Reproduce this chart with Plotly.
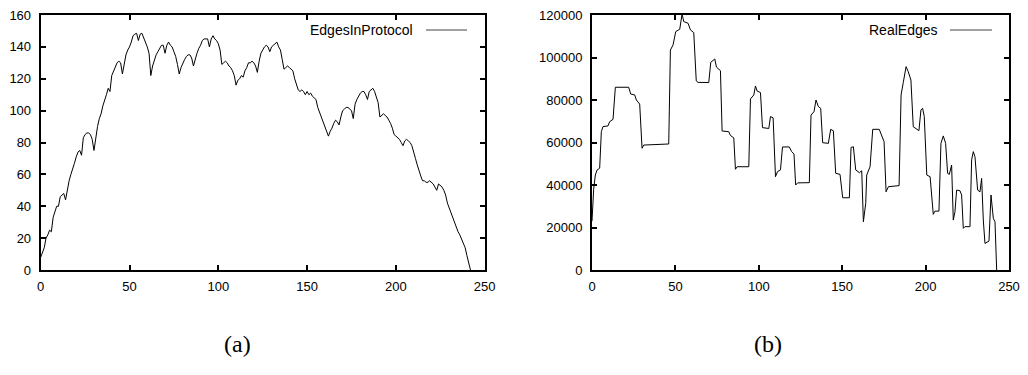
import plotly.graph_objects as go

# ---------------- data ----------------
rounds_a = list(range(0, 243))
edges_in_protocol = [
    8, 11, 14, 20, 22, 25, 24, 33, 36, 40,
    40, 46, 47, 48, 44, 51, 56, 60, 63, 67,
    71, 74, 75, 72, 83, 85, 86, 86, 85, 82,
    75, 84, 90, 95, 98, 103, 106, 110, 114, 112,
    122, 125, 128, 130, 131, 130, 123, 130, 135, 138,
    140, 143, 147, 148, 148.5, 144, 148, 148.5, 146, 143,
    140, 136, 122, 128, 132, 135, 137, 139, 141, 141,
    136, 141, 143, 141, 140, 137, 134, 129, 123, 127,
    130, 132, 134, 135, 135, 133, 128, 133, 136, 139,
    141, 144, 145, 145, 145, 140, 145, 147, 145, 144,
    142, 138, 129, 130, 131, 130, 128, 127, 125, 122,
    116, 119, 120, 122, 121, 125, 127, 130, 130, 131,
    130, 128, 124, 131, 136, 138, 140, 141, 140, 137,
    140, 141, 142, 143, 140, 138, 132, 126, 127, 128,
    127, 126, 125, 120, 116, 113, 112, 113, 112, 110,
    112, 110, 111, 109, 108, 107, 102, 99, 96, 94,
    90, 87, 84, 87, 89, 92, 94, 93, 91, 96,
    100, 101, 102, 102, 101, 100, 95, 104, 107, 109,
    111, 112, 112, 110, 107, 112, 113, 114, 112, 109,
    105, 96, 97, 98, 97, 96, 94, 92, 89, 85,
    84, 83, 82, 80, 78, 81, 82, 81, 80, 78,
    73, 70, 66, 62, 59, 56, 56, 55, 55, 56,
    55, 54, 52, 50, 54, 53, 52, 50, 47, 42,
    39, 36, 32, 29, 27, 24, 22, 19, 16, 14,
    9, 4, 0,
]

rounds_b = [
    0, 1, 2, 3, 4.6, 5.6, 6.6, 9.6, 10.6, 12.6, 14, 22, 23.2, 25.6, 26.6, 28.6,
    30, 31, 46, 47, 48.6, 50.2, 52.6, 54, 55, 57.6, 59, 61, 62.5, 63.6, 70,
    71.2, 73.6, 74.6, 77, 78, 82, 83, 85, 86, 87, 94, 95, 97, 98, 99, 101,
    102.2, 106, 107, 108.6, 110, 111.2, 113, 114.2, 118.3, 119.7, 121.1,
    122.1, 123.3, 130.3, 131.3, 133.1, 134.3, 135.7, 137.1, 138.3, 141.7,
    143.1, 144.7, 146.1, 148.7, 150.3, 154.3, 155.3, 156.7, 158.1, 160.3,
    161.7, 162.7, 164.1, 164.7, 166.7, 168.3, 172.2, 173.7, 175.1, 176.3,
    177.7, 184.1, 185.3, 186.6, 188.3, 189.6, 191.2, 192.6, 196, 197.2,
    198.2, 199.2, 200.7, 202.7, 204.6, 205.6, 208, 209.2, 210.6, 212, 213.2,
    214.2, 215.6, 216.6, 217.6, 218.6, 220.6, 221.6, 222.6, 223.6, 226.6,
    227.6, 228.6, 229.6, 231.2, 232.6, 233.6, 234.6, 235.6, 238, 239.2,
    240.6, 241.6, 242.6,
]
real_edges = [
    23000, 38000, 44700, 47000, 47900, 65100, 67500, 67800, 69800, 70900,
    86000, 86000, 82800, 82400, 80000, 78100,
    57300, 58800, 59300, 103500, 105900, 112200, 113300, 120500, 116900,
    116100, 113000, 111700, 89000, 88300, 88200,
    97700, 99300, 95500, 93800, 65400, 65100, 63300, 62200, 47400, 48600,
    48600, 80500, 82400, 86600, 84200, 83500,
    67000, 66600, 72200, 71600, 43900, 46300, 47100, 57900, 57900, 55700,
    54600,
    40000, 41000, 41100, 72900, 74500, 80000, 76900, 76100, 59900, 59600,
    66200, 65500, 45500, 45000, 34000, 34000, 57700, 58000, 47100, 45800,
    46700, 22700, 31400, 44700, 48600, 66200, 66200, 62700, 60400, 36800,
    39200, 39700, 82400, 88200, 95700, 93300, 89400, 67400, 65600, 75300,
    76100, 72200, 44700, 43900, 26200, 27700, 27700, 59600, 63100, 59600,
    45500, 45000, 49400, 23500, 27400, 37600, 37300, 35300, 19600, 20400,
    20400, 51800, 55700, 53300, 37600, 36800, 43100, 23500, 12500, 13600,
    35300, 24300, 22700, 0,
]

x_ticks = [0, 50, 100, 150, 200, 250]
y_ticks_a = [0, 20, 40, 60, 80, 100, 120, 140, 160]
y_ticks_b = [0, 20000, 40000, 60000, 80000, 100000, 120000]

W, H = 1028, 375

fig = go.Figure()
fig.add_trace(go.Scatter(x=rounds_a, y=edges_in_protocol, mode="lines",
                         line=dict(color="black", width=1),
                         xaxis="x", yaxis="y", showlegend=False))
fig.add_trace(go.Scatter(x=rounds_b, y=real_edges, mode="lines",
                         line=dict(color="black", width=1),
                         xaxis="x2", yaxis="y2", showlegend=False))

tickfont = dict(family="Liberation Sans, Arial, sans-serif", size=13, color="black")
ydom = [1 - 270 / H, 1 - 15 / H]
common = dict(showline=True, linecolor="black", linewidth=2, mirror="ticks",
              ticks="inside", ticklen=5, tickwidth=1.5, tickcolor="black",
              showgrid=False, zeroline=False, tickfont=tickfont,
              automargin=False)

fig.update_layout(
    width=W, height=H,
    margin=dict(l=0, r=0, t=0, b=0),
    paper_bgcolor="white", plot_bgcolor="white",
    xaxis=dict(domain=[40.7 / W, 484.7 / W], range=[0, 250], tickvals=x_ticks,
               anchor="y", ticklabelstandoff=3, **common),
    yaxis=dict(domain=ydom, range=[0, 160], tickvals=y_ticks_a,
               anchor="x", ticklabelstandoff=5, **common),
    xaxis2=dict(domain=[592 / W, 1009 / W], range=[0, 250], tickvals=x_ticks,
                anchor="y2", ticklabelstandoff=3, **common),
    yaxis2=dict(domain=ydom, range=[0, 120000], tickvals=y_ticks_b,
                ticktext=[str(v) for v in y_ticks_b],
                anchor="x2", ticklabelstandoff=5, **common),
)

# gnuplot-style legends: text followed by a line sample
legfont = dict(family="Liberation Sans, Arial, sans-serif", size=14, color="black")
fig.add_annotation(x=415 / W, y=1 - 30 / H, xref="paper", yref="paper",
                   text="EdgesInProtocol", showarrow=False, xanchor="right",
                   yanchor="middle", font=legfont)
fig.add_shape(type="line", xref="paper", yref="paper",
              x0=426 / W, x1=467 / W, y0=1 - 30 / H, y1=1 - 30 / H,
              line=dict(color="#444", width=1))
fig.add_annotation(x=940 / W, y=1 - 30 / H, xref="paper", yref="paper",
                   text="RealEdges", showarrow=False, xanchor="right",
                   yanchor="middle", font=legfont)
fig.add_shape(type="line", xref="paper", yref="paper",
              x0=950 / W, x1=992 / W, y0=1 - 30 / H, y1=1 - 30 / H,
              line=dict(color="#444", width=1))

capfont = dict(family="Liberation Serif, DejaVu Serif, serif", size=24, color="black")
fig.add_annotation(x=237 / W, y=1 - 344 / H, xref="paper", yref="paper",
                   text="(a)", showarrow=False, xanchor="center", yanchor="middle",
                   font=capfont)
fig.add_annotation(x=768 / W, y=1 - 344 / H, xref="paper", yref="paper",
                   text="(b)", showarrow=False, xanchor="center", yanchor="middle",
                   font=capfont)

fig.write_html(
    "out.html",
    config={"displayModeBar": False},
    post_script="document.body.style.margin='0';document.body.style.overflow='hidden';",
)
